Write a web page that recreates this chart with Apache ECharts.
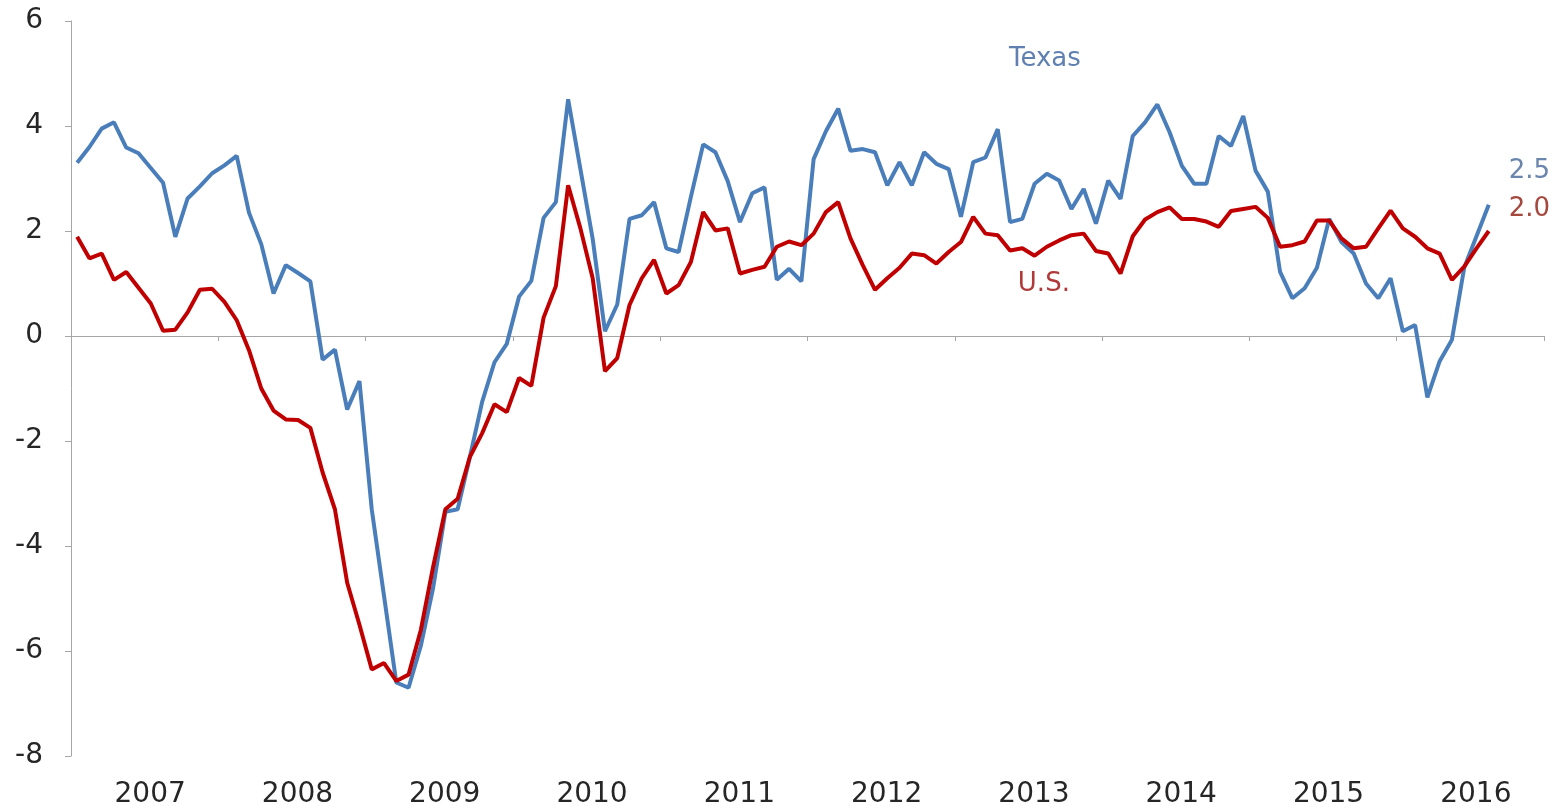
<!DOCTYPE html>
<html>
<head>
<meta charset="utf-8">
<title>Texas vs U.S.</title>
<script src="https://cdn.jsdelivr.net/npm/echarts@6/dist/echarts.min.js"></script>
<style>
  html, body { margin: 0; padding: 0; background: #fff; }
  #chart { width: 1562px; height: 809px; }
</style>
</head>
<body>
<div id="chart"></div>
<script>
const years = ['2007', '2008', '2009', '2010', '2011', '2012', '2013', '2014', '2015', '2016'];
const yTicks = [-8, -6, -4, -2, 0, 2, 4, 6];

// one category per month, Jan 2007 .. Dec 2016
const months = [];
years.forEach(y => {
  for (let i = 1; i <= 12; i++) months.push(y + '-' + (i < 10 ? '0' + i : i));
});

// Jan 2007 .. Aug 2016
const texas = [
  3.3, 3.6, 3.95, 4.07, 3.59, 3.48, 3.2, 2.92, 1.89, 2.62, 2.85, 3.1,
  3.25, 3.43, 2.35, 1.75, 0.81, 1.35, 1.2, 1.04, -0.45, -0.26, -1.4, -0.86,
  -3.3, -4.95, -6.6, -6.7, -5.9, -4.8, -3.35, -3.3, -2.3, -1.25, -0.5, -0.15,
  0.75, 1.05, 2.25, 2.55, 4.51, 3.18, 1.85, 0.09, 0.6, 2.23, 2.3, 2.55,
  1.67, 1.6, 2.65, 3.65, 3.5, 2.95, 2.17, 2.72, 2.83, 1.07, 1.28, 1.04,
  3.37, 3.9, 4.33, 3.53, 3.56, 3.5, 2.87, 3.31, 2.87, 3.5, 3.28, 3.18,
  2.27, 3.31, 3.4, 3.94, 2.17, 2.23, 2.9, 3.09, 2.96, 2.42, 2.8, 2.14,
  2.96, 2.61, 3.81, 4.07, 4.41, 3.88, 3.24, 2.9, 2.9, 3.81, 3.62, 4.19,
  3.15, 2.75, 1.22, 0.72, 0.91, 1.3, 2.23, 1.79, 1.57, 1.0, 0.72, 1.1,
  0.09, 0.21, -1.17, -0.48, -0.07, 1.3, 1.9, 2.5
];

const us = [
  1.89, 1.48, 1.57, 1.07, 1.22, 0.92, 0.62, 0.1, 0.12, 0.45, 0.88, 0.9,
  0.65, 0.3, -0.27, -1.0, -1.42, -1.59, -1.6, -1.75, -2.6, -3.3, -4.7, -5.5,
  -6.35, -6.23, -6.57, -6.45, -5.6, -4.4, -3.3, -3.1, -2.3, -1.85, -1.3, -1.45,
  -0.8, -0.95, 0.35, 0.95, 2.87, 2.05, 1.1, -0.67, -0.42, 0.59, 1.1, 1.45,
  0.81, 0.97, 1.41, 2.36, 2.01, 2.05, 1.19, 1.26, 1.32, 1.7, 1.8, 1.73,
  1.95, 2.36, 2.55, 1.86, 1.35, 0.88, 1.1, 1.3, 1.57, 1.54, 1.38, 1.6,
  1.79, 2.27, 1.95, 1.92, 1.63, 1.67, 1.53, 1.7, 1.82, 1.92, 1.95, 1.62,
  1.57, 1.19, 1.9, 2.22, 2.36, 2.45, 2.23, 2.23, 2.18, 2.08, 2.38, 2.42,
  2.46, 2.25, 1.7, 1.73, 1.8, 2.2, 2.2, 1.86, 1.67, 1.7, 2.05, 2.39,
  2.05, 1.89, 1.67, 1.57, 1.07, 1.32, 1.67, 2.0
];

const blue = '#4a7ebb';
const red = '#c00000';
const axisGrey = '#a6a6a6';
const font = 'DejaVu Sans';

const chart = echarts.init(document.getElementById('chart'));

chart.setOption({
  animation: false,
  backgroundColor: '#fff',
  grid: { left: 71, right: 18, top: 21, bottom: 53 },
  xAxis: [
    {
      type: 'category',
      data: months,
      boundaryGap: true,
      axisLine: { onZero: true, lineStyle: { color: axisGrey, width: 1 } },
      axisTick: { show: true, interval: 11, length: 5, lineStyle: { color: axisGrey } },
      axisLabel: { show: false },
      splitLine: { show: false }
    },
    {
      type: 'category',
      data: years,
      position: 'bottom',
      axisLine: { show: false, onZero: false },
      axisTick: { show: false },
      axisLabel: {
        fontFamily: font,
        fontSize: 28,
        color: '#262626',
        margin: 25,
        padding: [0, 0, 0, 11]
      },
      splitLine: { show: false }
    }
  ],
  yAxis: {
    type: 'value',
    min: yTicks[0],
    max: yTicks[yTicks.length - 1],
    interval: 2,
    axisLine: { show: true, lineStyle: { color: axisGrey, width: 1 } },
    axisTick: { show: true, length: 6, lineStyle: { color: axisGrey } },
    axisLabel: { fontFamily: font, fontSize: 28, color: '#262626', margin: 28 },
    splitLine: { show: false }
  },
  series: [
    {
      name: 'Texas',
      type: 'line',
      data: texas,
      symbol: 'none',
      lineStyle: { color: blue, width: 4 },
      itemStyle: { color: blue },
      endLabel: {
        show: true,
        formatter: p => p.value.toFixed(1),
        fontFamily: font,
        fontSize: 26,
        color: '#6b86ad',
        offset: [12, -34]
      },
      markPoint: {
        symbol: 'circle',
        symbolSize: 1,
        itemStyle: { color: 'rgba(0,0,0,0)' },
        label: {
          show: true,
          position: 'inside',
          formatter: 'Texas',
          fontFamily: font,
          fontSize: 26,
          color: '#5f80b0',
          offset: [-2, 0]
        },
        data: [{ coord: [months[79], 5.27] }]
      }
    },
    {
      name: 'U.S.',
      type: 'line',
      data: us,
      symbol: 'none',
      lineStyle: { color: red, width: 4 },
      itemStyle: { color: red },
      endLabel: {
        show: true,
        formatter: p => p.value.toFixed(1),
        fontFamily: font,
        fontSize: 26,
        color: '#a5483e',
        offset: [12, -22]
      },
      markPoint: {
        symbol: 'circle',
        symbolSize: 1,
        itemStyle: { color: 'rgba(0,0,0,0)' },
        label: {
          show: true,
          position: 'inside',
          formatter: 'U.S.',
          fontFamily: font,
          fontSize: 26,
          color: '#b03a3a',
          offset: [-3, 0]
        },
        data: [{ coord: [months[79], 0.98] }]
      }
    }
  ]
});
</script>
</body>
</html>
